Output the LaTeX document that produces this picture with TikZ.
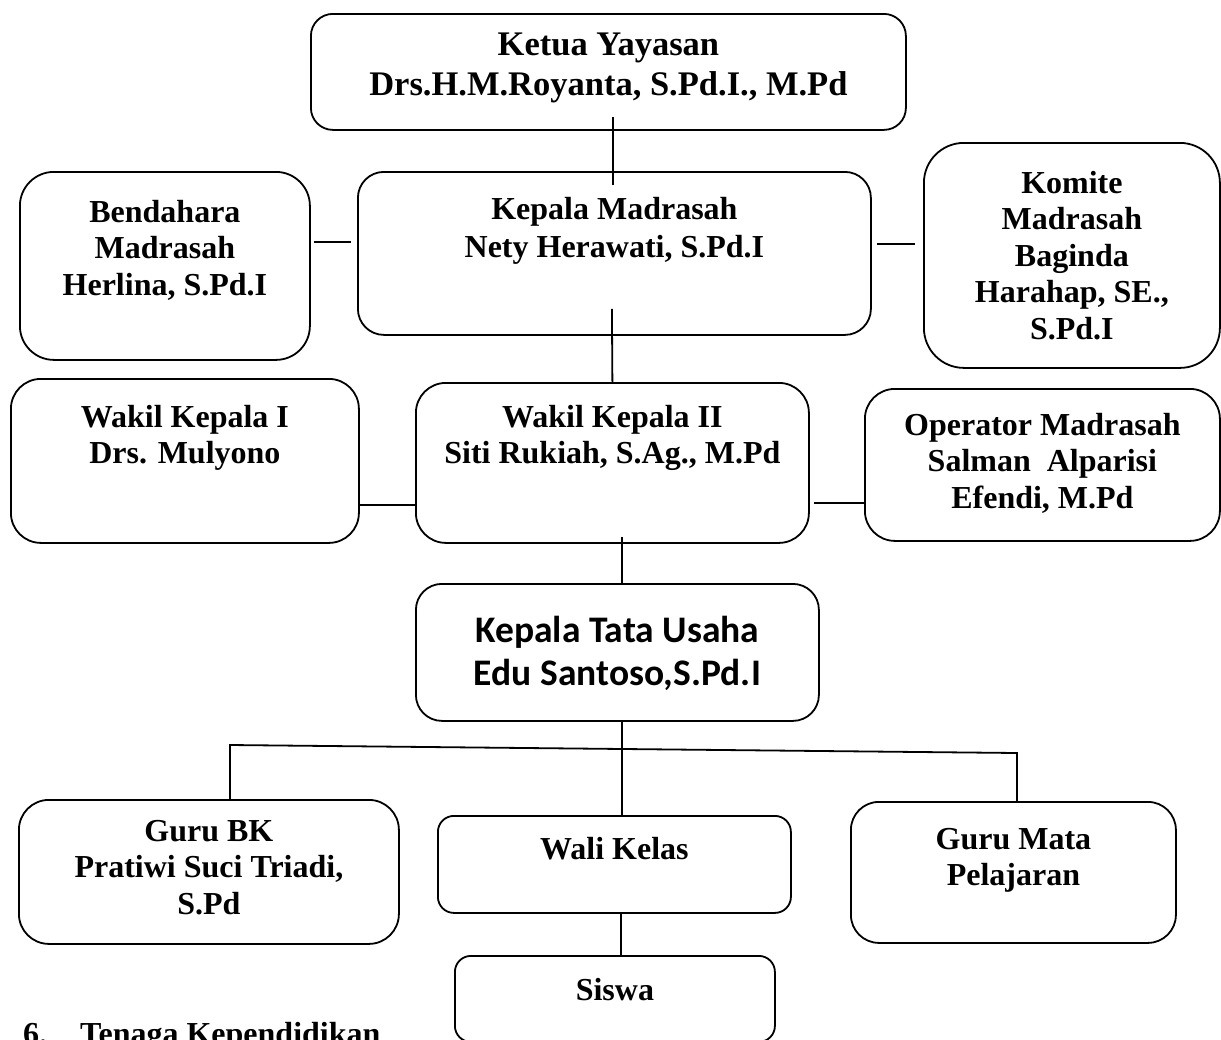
\documentclass[tikz,border=0pt]{standalone}
\usepackage{fontspec}
\setmainfont{Liberation Serif}
\newfontfamily\calibrifont{Carlito}
\usetikzlibrary{positioning,calc}

\tikzset{
  orgbox/.style={draw, line width=1.8pt, rounded corners=#1, inner sep=0pt, anchor=north west},
  orgbox/.default=26pt,
  orgtext/.style={align=center, inner sep=0pt, font=\bfseries\fontsize{32}{36.5}\selectfont},
  link/.style={line width=1.8pt}
}

\begin{document}
\begin{tikzpicture}[x=1pt,y=-1pt]
        \useasboundingbox (0,0) rectangle (1221,1039);

        % boxes
        \node[orgbox=22pt, minimum width=595pt, minimum height=116pt](ketua)at(310,13){};
        \node[orgbox=26pt, minimum width=513pt, minimum height=163pt](kepala)at(357,171){};
        \node[orgbox=34pt, minimum width=290pt, minimum height=188pt](bendahara)at(19,171){};
        \node[orgbox=40pt, minimum width=296pt, minimum height=225pt](komite)at(923,142){};
        \node[orgbox=30pt, minimum width=348pt, minimum height=164pt](wakilsatu)at(10,378){};
        \node[orgbox=30pt, minimum width=393pt, minimum height=160pt](wakildua)at(415,382){};
        \node[orgbox=30pt, minimum width=355pt, minimum height=152pt](operator)at(864,388){};
        \node[orgbox=26pt, minimum width=403pt, minimum height=137pt](tatausaha)at(415,583){};
        \node[orgbox=30pt, minimum width=380pt, minimum height=144pt](gurubk)at(18,799){};
        \node[orgbox=16pt, minimum width=353pt, minimum height=97pt](walikelas)at(437,815){};
        \node[orgbox=28pt, minimum width=325pt, minimum height=141pt](gurumapel)at(850,801){};
        \node[orgbox=16pt, minimum width=320pt, minimum height=86pt](siswa)at(454,955){};

        % texts
        \node[orgtext, font=\bfseries\fontsize{34.5}{40}\selectfont, below=20pt of ketua.north](ketuatxt){Ketua Yayasan\\Drs.H.M.Royanta, S.Pd.I., M.Pd};
        \node[orgtext, font=\bfseries\fontsize{32}{38}\selectfont, below=26pt of kepala.north](kepalatxt){Kepala Madrasah\\Nety Herawati, S.Pd.I};
        \node[orgtext, below=29pt of bendahara.north](bendaharatxt){Bendahara\\Madrasah\\Herlina, S.Pd.I};
        \node[orgtext, below=29pt of komite.north](komitetxt){Komite\\Madrasah\\Baginda\\Harahap, SE.,\\S.Pd.I};
        \node[orgtext, below=27pt of wakilsatu.north](wakilsatutxt){Wakil Kepala I\\Drs. Mulyono};
        \node[orgtext, below=23pt of wakildua.north](wakilduatxt){Wakil Kepala II\\Siti Rukiah, S.Ag., M.Pd};
        \node[orgtext, below=25pt of operator.north](operatortxt){Operator Madrasah\\Salman\ \ Alparisi\\Efendi, M.Pd};
        \node[orgtext, font=\calibrifont\bfseries\fontsize{37.5}{43}\selectfont, below=33pt of tatausaha.north](tatausahatxt){Kepala Tata Usaha\\Edu Santoso,S.Pd.I};
        \node[orgtext, below=21pt of gurubk.north](gurubktxt){Guru BK\\Pratiwi Suci Triadi,\\S.Pd};
        \node[orgtext, below=22pt of walikelas.north](walikelastxt){Wali Kelas};
        \node[orgtext, below=27pt of gurumapel.north](gurumapeltxt){Guru Mata\\Pelajaran};
        \node[orgtext, below=23pt of siswa.north](siswatxt){Siswa};
        \node[orgtext, anchor=north west](tenaga)at(23,1022){\makebox[57pt][l]{6.}Tenaga Kependidikan};

        % lines
        \draw[link]([xshift=4.5pt,yshift=14pt]ketua.south)--([xshift=-1.5pt,yshift=-14pt]kepala.north);
        \draw[link]([xshift=-2.5pt,yshift=27pt]kepala.south)--(wakildua.north);
        \draw[link]($(bendahara.north east)+(3,71)$)--($(kepala.north west)+(-6,71)$);
        \draw[link]($(kepala.north east)+(5,73)$)--($(komite.north west)+(-8,102)$);
        \draw[link]($(wakilsatu.north east)+(0,127)$)--($(wakildua.north west)+(0,123)$);
        \draw[link]($(wakildua.north east)+(4,121)$)--($(operator.north west)+(0,115)$);
        \draw[link]([xshift=9.5pt,yshift=7pt]wakildua.south)--([xshift=4.5pt]tatausaha.north);
        \draw[link]([xshift=4.5pt]tatausaha.south)--([xshift=7.5pt]walikelas.north);
        \draw[link]([xshift=6.5pt]walikelas.south)--([xshift=6pt]siswa.north);

        \coordinate(busleft)at(230,745);
        \coordinate(busright)at(1017,753);
        \draw[link](busleft|-gurubk.north)--(busleft)--(busright)--(busright|-gurumapel.north);
    \end{tikzpicture}
\end{document}
